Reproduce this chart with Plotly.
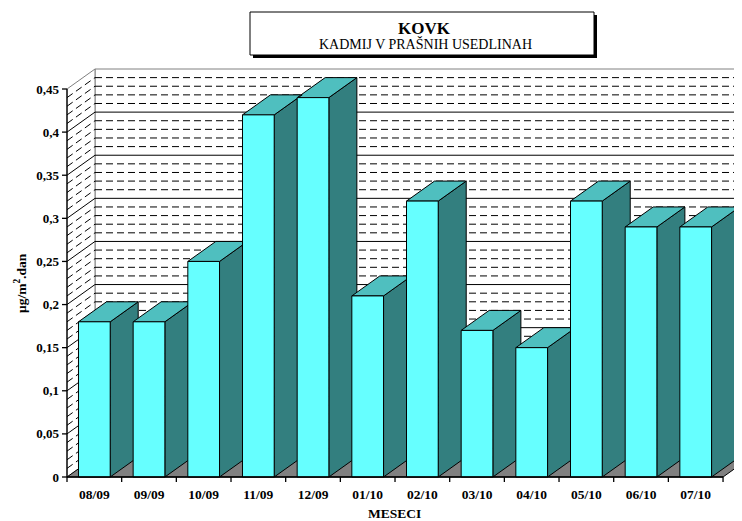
import plotly.graph_objects as go

# --------------------------------------------------------------------------- #
#  Data                                                                         #
# --------------------------------------------------------------------------- #

months = ["08/09", "09/09", "10/09", "11/09", "12/09", "01/10",
          "02/10", "03/10", "04/10", "05/10", "06/10", "07/10"]
cadmium = [0.18, 0.18, 0.25, 0.42, 0.44, 0.21,
           0.32, 0.17, 0.15, 0.32, 0.29, 0.29]

y_ticks = [0, 0.05, 0.1, 0.15, 0.2, 0.25, 0.3, 0.35, 0.4, 0.45]
y_tick_text = ["0", "0,05", "0,1", "0,15", "0,2", "0,25", "0,3", "0,35", "0,4", "0,45"]
minor_step = 0.01

# --------------------------------------------------------------------------- #
#  Look                                                                         #
# --------------------------------------------------------------------------- #

_FONT = "Liberation Serif"
_FRONT = "#66FFFF"
_SIDE = "#337F7F"
_TOP = "#4FBFBF"
_FLOOR = "#808080"
_EDGE = "#000000"
_WALL_EDGE = "#808080"

OFF = 8                             # page body margin of the html
W, H = 742 - OFF, 521 - OFF
L, R, T, B = 61 - OFF, 0, 67 - OFF, 38
CAT_PX = 54.67                      # px per category
UNIT_PX = 862.2                     # px per unit on y
DX = 28 / CAT_PX                    # oblique depth, x part
DY = 20 / UNIT_PX                   # oblique depth, y part
HALF = 0.29                         # half width of bar front
Y_TOP = y_ticks[-1]
X0 = -0.5
X1 = len(months) - 0.5


def px_x(p):
    # p in screenshot pixels
    return (p - OFF - L) / (W - L - R)


def px_y(p):
    return (H - B - (p - OFF)) / (H - T - B)


def poly_trace(polys, fill, line_color, width=1.0):
    xs, ys = [], []
    for pts in polys:
        xs += [p[0] for p in pts] + [pts[0][0], None]
        ys += [p[1] for p in pts] + [pts[0][1], None]
    return go.Scatter(
        x=xs, y=ys, mode="lines", fill="toself", fillcolor=fill,
        line=dict(color=line_color, width=width),
        hoverinfo="skip", showlegend=False,
    )


def line_trace(segs, color, width=1.0, dash="solid"):
    xs, ys = [], []
    for (a, b) in segs:
        xs += [a[0], b[0], None]
        ys += [a[1], b[1], None]
    return go.Scatter(
        x=xs, y=ys, mode="lines",
        line=dict(color=color, width=width, dash=dash),
        hoverinfo="skip", showlegend=False,
    )


fig = go.Figure()

# walls and floor
xb = X0 + DX
XR = X1 + 2
fig.add_trace(poly_trace([[(xb, DY), (XR, DY), (XR, Y_TOP + DY), (xb, Y_TOP + DY)]],
                         "#FFFFFF", _WALL_EDGE))
fig.add_trace(poly_trace([[(X0, 0), (xb, DY), (xb, Y_TOP + DY), (X0, Y_TOP)]],
                         "#FFFFFF", _WALL_EDGE))

# gridlines on back and side walls
n_steps = int(round(Y_TOP / minor_step))
major, minor = [], []
for k in range(1, n_steps):
    v = k * minor_step
    segs = [((xb, v + DY), (XR, v + DY)), ((X0, v), (xb, v + DY))]
    if any(abs(v - t) < 1e-9 for t in y_ticks):
        major += segs
    else:
        minor += segs
fig.add_trace(line_trace(minor, "#000000", 1, dash="7px,4px"))
fig.add_trace(line_trace(major, "#000000", 1))

fig.add_trace(poly_trace([[(X0, 0), (X1, 0), (X1 + DX, DY), (xb, DY)]], _FLOOR, _EDGE))

# 3D bars
sides, tops, fronts = [], [], []
for i, v in enumerate(cadmium):
    xl, xr = i - HALF, i + HALF
    sides.append([(xr, 0), (xr + DX, DY), (xr + DX, v + DY), (xr, v)])
    tops.append([(xl, v), (xr, v), (xr + DX, v + DY), (xl + DX, v + DY)])
    fronts.append([(xl, 0), (xr, 0), (xr, v), (xl, v)])
fig.add_trace(poly_trace(sides, _SIDE, _EDGE))
fig.add_trace(poly_trace(tops, _TOP, _EDGE))
fig.add_trace(poly_trace(fronts, _FRONT, _EDGE))

# front axes and tick marks
tick_x = 5 / CAT_PX
tick_y = 5 / UNIT_PX
axis_segs = [((X0, 0), (X1, 0)), ((X0, 0), (X0, Y_TOP))]
axis_segs += [((X0 - tick_x, t), (X0, t)) for t in y_ticks]
axis_segs += [((X0 + k, 0), (X0 + k, -tick_y)) for k in range(len(months) + 1)]
fig.add_trace(line_trace(axis_segs, "#000000", 1.3))

fig.update_layout(
    width=W, height=H,
    margin=dict(l=L, r=R, t=T, b=B),
    paper_bgcolor="#FFFFFF", plot_bgcolor="#FFFFFF",
    font=dict(family=_FONT, color="#000000"),
    showlegend=False,
    xaxis=dict(
        range=[X0 - 6 / CAT_PX, X0 + (742 - 67) / CAT_PX],
        tickvals=list(range(len(months))), ticktext=months,
        tickfont=dict(family=_FONT, size=13.5, weight="bold"),
        ticks="", showgrid=False, zeroline=False, showline=False,
        ticklabelstandoff=1,
    ),
    yaxis=dict(
        range=[-6 / UNIT_PX, Y_TOP + DY + 2 / UNIT_PX],
        tickvals=y_ticks, ticktext=y_tick_text,
        tickfont=dict(family=_FONT, size=13, weight="bold"),
        ticks="", showgrid=False, zeroline=False, showline=False,
        ticklabelstandoff=1,
    ),
    shapes=[
        dict(type="rect", xref="paper", yref="paper",
             x0=px_x(253), x1=px_x(597), y0=px_y(15), y1=px_y(58),
             fillcolor="#000000", line=dict(width=0)),
        dict(type="rect", xref="paper", yref="paper",
             x0=px_x(250), x1=px_x(594), y0=px_y(12), y1=px_y(55),
             fillcolor="#FFFFFF", line=dict(color="#000000", width=1)),
    ],
    annotations=[
        dict(text="KOVK", xref="paper", yref="paper", x=px_x(424), y=px_y(28),
             showarrow=False, font=dict(family=_FONT, size=17, weight="bold"),
             xanchor="center", yanchor="middle"),
        dict(text="KADMIJ V PRAŠNIH USEDLINAH", xref="paper", yref="paper",
             x=px_x(425), y=px_y(44), showarrow=False,
             font=dict(family=_FONT, size=14),
             xanchor="center", yanchor="middle"),
        dict(text="MESECI", xref="paper", yref="paper", x=px_x(394), y=px_y(513),
             showarrow=False, font=dict(family=_FONT, size=13.5, weight="bold"),
             xanchor="center", yanchor="middle"),
        dict(text="μg/m<sup>2</sup>.dan", xref="paper", yref="paper",
             x=px_x(20), y=px_y(283), textangle=-90, showarrow=False,
             font=dict(family=_FONT, size=13.5, weight="bold"),
             xanchor="center", yanchor="middle"),
    ],
)

fig.write_html("out.html")
